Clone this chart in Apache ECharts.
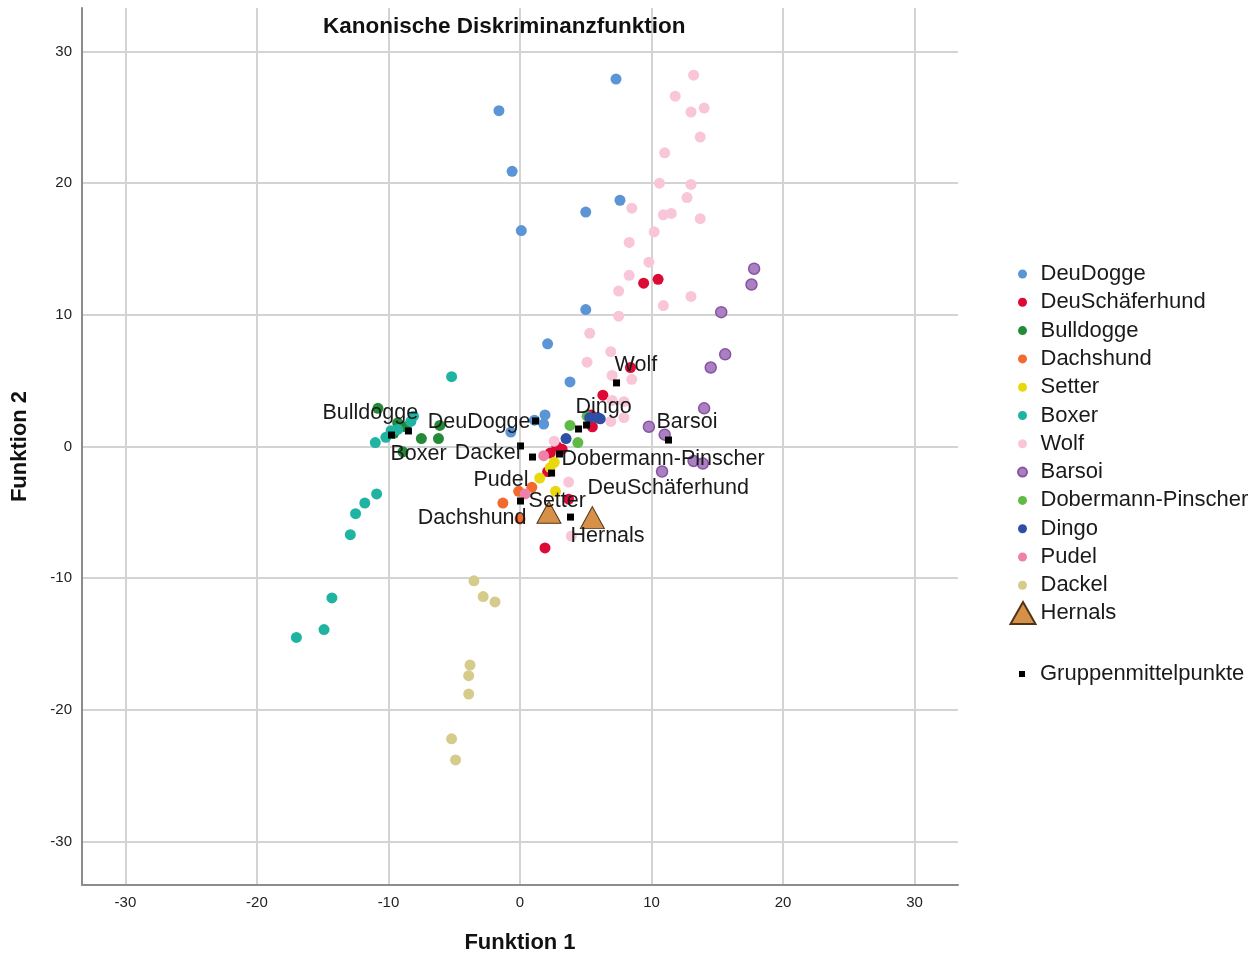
<!DOCTYPE html>
<html>
<head>
<meta charset="utf-8">
<title>Kanonische Diskriminanzfunktion</title>
<script src="https://cdn.jsdelivr.net/npm/echarts@6/dist/echarts.min.js"></script>
<style>
  html, body { margin: 0; padding: 0; background: #fff; }
  #chart { width: 1258px; height: 956px; }
</style>
</head>
<body>
<div id="chart"></div>
<script>
// Gruppen in Legendenreihenfolge
const groups = ['DeuDogge', 'DeuSchäferhund', 'Bulldogge', 'Dachshund', 'Setter', 'Boxer',
  'Wolf', 'Barsoi', 'Dobermann-Pinscher', 'Dingo', 'Pudel', 'Dackel']

// Fälle je Gruppe: [Funktion 1, Funktion 2]
const deuDogge = [[7.3, 27.9], [-1.6, 25.5], [-0.6, 20.9], [5.0, 17.8], [7.6, 18.7], [0.1, 16.4],
  [5.0, 10.4], [2.1, 7.8], [3.8, 4.9], [1.9, 2.4], [1.1, 2.0], [1.8, 1.7], [-0.7, 1.1]]
const deuSchaeferhund = [[9.4, 12.4], [10.5, 12.7], [8.4, 6.0], [6.3, 3.9], [5.4, 2.4], [5.5, 1.5],
  [2.8, 0.0], [3.2, -0.2], [2.3, -0.5], [2.1, -1.9], [3.7, -4.0], [1.9, -7.7]]
const bulldogge = [[-10.8, 2.9], [-9.3, 1.8], [-8.7, 1.5], [-9.6, 1.0], [-7.5, 0.6], [-6.2, 0.6],
  [-6.1, 1.6], [-8.9, -0.4]]
const dachshund = [[-1.3, -4.3], [0.0, -5.5], [-0.1, -3.4], [0.9, -3.1]]
const setter = [[2.6, -1.2], [2.3, -1.6], [1.5, -2.4], [2.7, -3.4]]
const boxer = [[-5.2, 5.3], [-11.0, 0.3], [-10.2, 0.7], [-9.8, 1.2], [-9.3, 1.3], [-8.3, 1.9],
  [-8.1, 2.3], [-10.9, -3.6], [-11.8, -4.3], [-12.5, -5.1], [-12.9, -6.7], [-14.3, -11.5],
  [-14.9, -13.9], [-17.0, -14.5]]
const wolf = [[13.2, 28.2], [11.8, 26.6], [13.0, 25.4], [14.0, 25.7], [13.7, 23.5], [11.0, 22.3],
  [10.6, 20.0], [13.0, 19.9], [12.7, 18.9], [8.5, 18.1], [10.9, 17.6], [11.5, 17.7], [13.7, 17.3],
  [10.2, 16.3], [8.3, 15.5], [9.8, 14.0], [8.3, 13.0], [7.5, 11.8], [13.0, 11.4], [10.9, 10.7],
  [7.5, 9.9], [5.3, 8.6], [6.9, 7.2], [5.1, 6.4], [7.0, 5.4], [8.5, 5.1], [7.0, 3.5], [7.9, 3.4],
  [6.9, 1.9], [7.9, 2.2], [2.6, 0.4], [3.7, -2.7], [3.9, -6.8]]
const barsoi = [[17.8, 13.5], [17.6, 12.3], [15.3, 10.2], [15.6, 7.0], [14.5, 6.0], [14.0, 2.9],
  [9.8, 1.5], [11.0, 0.9], [13.2, -1.1], [13.9, -1.3], [10.8, -1.9]]
const dobermannPinscher = [[3.8, 1.6], [4.4, 0.3], [5.1, 2.3]]
const dingo = [[3.5, 0.6], [5.3, 2.2], [5.9, 2.2], [6.1, 2.1]]
const pudel = [[1.8, -0.7], [0.4, -3.6]]
const dackel = [[-3.5, -10.2], [-2.8, -11.4], [-1.9, -11.8], [-3.8, -16.6], [-3.9, -17.4],
  [-3.9, -18.8], [-5.2, -22.2], [-4.9, -23.8]]
const hernals = [[2.2, -5.0], [5.5, -5.4]]

// Gruppenmittelpunkte
const centroidNames = ['DeuDogge', 'DeuSchäferhund', 'Bulldogge', 'Dachshund', 'Setter', 'Boxer',
  'Wolf', 'Barsoi', 'Dobermann-Pinscher', 'Dingo', 'Pudel', 'Dackel', 'Hernals']
const centroidX = [1.18, 4.45, -8.48, 0.04, 2.40, -9.77, 7.34, 11.29, 3.00, 5.06, 0.95, 0.04, 3.84]
const centroidY = [1.94, 1.33, 1.18, -4.14, -2.02, 0.87, 4.83, 0.49, -0.57, 1.63, -0.80, 0.04, -5.36]

const tickValues = [-30, -20, -10, 0, 10, 20, 30]

const groupData = [deuDogge, deuSchaeferhund, bulldogge, dachshund, setter, boxer,
  wolf, barsoi, dobermannPinscher, dingo, pudel, dackel]

const colors = ['#5b95d5', '#dc0a35', '#238b38', '#f26a2e', '#e8d80e', '#1fb4a2',
  '#f8c5d9', '#ab80c3', '#5fba46', '#2d50a5', '#ef80aa', '#d5cb8a']

// Lage der Mittelpunkt-Beschriftungen (px relativ zum Punkt)
const labelPlace = {
  'DeuDogge': ['right', -5, 1],
  'DeuSchäferhund': ['left', 9, 59],
  'Bulldogge': ['left', -86, -18],
  'Dachshund': ['right', 6, 17],
  'Setter': ['left', -23, 28],
  'Boxer': ['left', -1, 19],
  'Wolf': ['left', -2, -18],
  'Barsoi': ['left', -12, -18],
  'Dobermann-Pinscher': ['left', 2, 5],
  'Dingo': ['left', -11, -18],
  'Pudel': ['right', -4, 23],
  'Dackel': ['right', 0, 7],
  'Hernals': ['left', 0, 19]
}

const font = "'Liberation Sans', Arial, sans-serif"

const chart = echarts.init(document.getElementById('chart'))

const series = groups.map((name, i) => ({
  name: name,
  type: 'scatter',
  data: groupData[i],
  symbol: 'circle',
  symbolSize: 11,
  itemStyle: name === 'Barsoi'
    ? { color: colors[i], borderColor: '#87559f', borderWidth: 1.5, opacity: 1 }
    : { color: colors[i], opacity: 1 },
  emphasis: { disabled: true },
  z: 3
}))

series.push({
  name: 'Hernals',
  type: 'scatter',
  data: hernals,
  symbol: 'triangle',
  symbolSize: [24, 22],
  itemStyle: { color: '#d69048', borderColor: '#4f3418', borderWidth: 1, opacity: 1 },
  emphasis: { disabled: true },
  z: 4
})

series.push({
  name: 'Gruppenmittelpunkte',
  type: 'scatter',
  symbol: 'rect',
  symbolSize: 7,
  itemStyle: { color: '#000', opacity: 1 },
  emphasis: { disabled: true },
  z: 5,
  data: centroidNames.map((n, i) => {
    const p = labelPlace[n]
    return {
      name: n,
      value: [centroidX[i], centroidY[i]],
      label: {
        show: true,
        formatter: '{b}',
        position: 'inside',
        align: p[0],
        verticalAlign: 'middle',
        offset: [p[1], p[2]],
        fontSize: 21.5,
        fontFamily: font,
        color: '#1a1a1a'
      }
    }
  })
})

const axisCommon = {
  type: 'value',
  min: -33.3,
  max: 33.3,
  axisLine: { show: true, onZero: false, lineStyle: { color: '#8c8c8c', width: 2 } },
  axisTick: { show: false, customValues: tickValues },
  axisLabel: { customValues: tickValues, fontSize: 15, fontFamily: font, color: '#222', margin: 10 },
  splitLine: { show: true, lineStyle: { color: '#d3d3d3', width: 2 } },
  nameLocation: 'middle',
  nameTextStyle: { fontSize: 22, fontWeight: 'bold', fontFamily: font, color: '#111' }
}

const legendText = { fontSize: 22, lineHeight: 22, fontFamily: font, color: '#1a1a1a' }

chart.setOption({
  animation: false,
  backgroundColor: '#fff',
  title: {
    text: 'Kanonische Diskriminanzfunktion',
    left: 323,
    top: 15.5,
    padding: 0,
    textStyle: { fontSize: 22.5, fontWeight: 'bold', fontFamily: font, color: '#111' }
  },
  grid: { left: 82, right: 300, top: 8, bottom: 71, containLabel: false, outerBoundsMode: 'none' },
  xAxis: Object.assign({}, axisCommon, { name: 'Funktion 1', nameGap: 47 }),
  yAxis: Object.assign({}, axisCommon, { name: 'Funktion 2', nameGap: 51 }),
  legend: [
    {
      data: groups,
      orient: 'vertical',
      left: 1017,
      top: 263,
      padding: 0,
      itemWidth: 26,
      itemHeight: 9,
      itemGap: 6.3,
      selectedMode: false,
      textStyle: legendText
    },
    {
      data: ['Hernals'],
      orient: 'vertical',
      left: 1009.5,
      top: 601,
      padding: 0,
      itemWidth: 25,
      itemHeight: 22,
      selectedMode: false,
      textStyle: legendText
    },
    {
      data: [{ name: 'Gruppenmittelpunkte', icon: 'path://M0 0M26 6M10 0H16V6H10Z' }],
      orient: 'vertical',
      left: 1009,
      top: 663,
      padding: 0,
      itemWidth: 26,
      itemHeight: 6,
      selectedMode: false,
      textStyle: legendText
    }
  ],
  series: series
})
</script>
</body>
</html>
